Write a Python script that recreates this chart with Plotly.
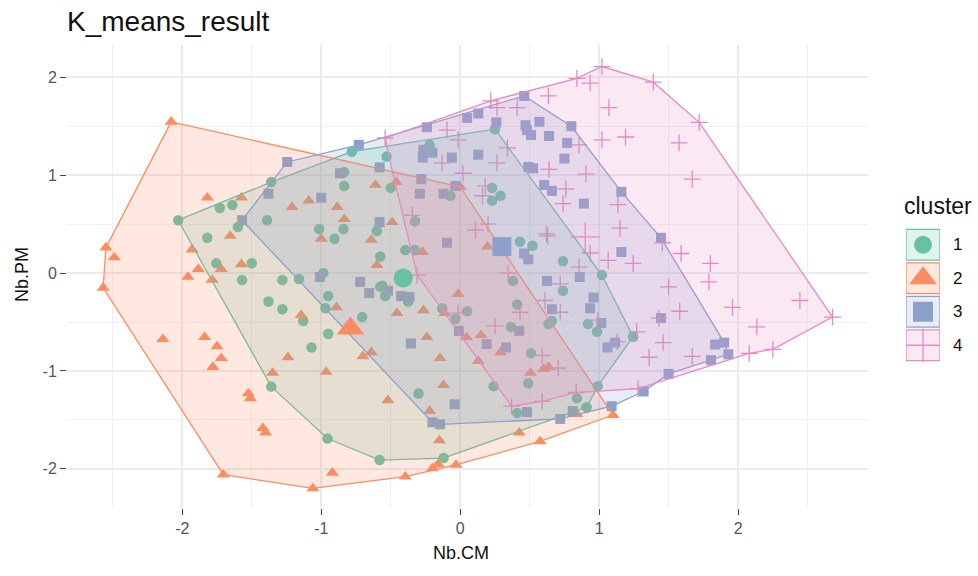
import plotly.graph_objects as go

TITLE = "K_means_result"
X_LABEL = "Nb.CM"
Y_LABEL = "Nb.PM"
LEGEND_TITLE = "cluster"
CLUSTERS = ["1", "2", "3", "4"]
TICKS = [-2, -1, 0, 1, 2]
TICK_TEXT = ["-2", "-1", "0", "1", "2"]
COLORS = ["#66C2A5", "#FC8D62", "#8DA0CB", "#E78AC3"]
FILLS = ["rgba(102,194,165,0.2)", "rgba(252,141,98,0.2)", "rgba(141,160,203,0.2)", "rgba(231,138,195,0.2)"]
SYMBOLS = ["circle", "triangle-up", "square", "cross-thin"]

c1_x = [-2.03,-1.73,-1.64,-1.60,-1.82,-1.36,-1.39,-1.755,-1.50,-1.57,-1.28,-1.16,-0.985,-0.95,-1.38,-0.78,-0.835,-0.835,-1.015,-0.84,-0.905,-0.60,-0.575,-0.575,-1.28,-1.13,-0.95,-1.07,-0.705,-0.97,-1.36,-0.955,-0.58,-0.53,-0.50,-0.22,0.25,0.23,0.29,0.23,-0.07,-0.325,-0.395,-0.325,0.43,0.52,0.74,1.02,0.38,0.74,-0.56,-0.54,-0.375,-0.13,0.05,-0.035,0.41,0.365,0.635,0.66,0.92,0.985,1.245,0.51,0.49,0.24,-0.30,0.99,0.84,0.91,0.41,-0.12]
c1_y = [0.54,0.665,0.695,0.47,0.36,0.93,0.54,0.10,0.10,-0.07,-0.07,-0.06,0,-0.235,-0.29,1.24,1.03,0.89,0.45,0.45,0.35,0.43,0.17,-0.14,-0.37,-0.49,-0.62,-0.76,-0.45,-0.36,-1.16,-1.69,-1.91,1.19,0.87,1.31,1.47,0.87,0.79,0.74,0.79,0.53,0.235,0.235,0.32,0.28,0.12,-0.02,-0.08,-0.18,-0.13,-0.235,-0.29,-0.36,-0.39,-0.47,-0.32,-0.55,-0.52,-0.49,-0.52,-0.60,-0.65,-0.82,-1.125,-1.155,-1.23,-1.155,-1.28,-1.37,-1.43,-1.89]

c2_x = [-2.08,-1.82,-1.575,-2.55,-2.49,-1.655,-1.93,-1.885,-1.96,-1.785,-1.72,-1.575,-2.57,-0.61,-1.09,-1.21,-0.885,-0.835,-1.0,-0.64,-0.60,-2.14,-1.84,-1.75,-1.72,-1.78,-1.525,-1.51,-1.42,-1.40,-1.705,-0.92,-1.06,-1.145,-0.89,-1.24,-1.35,-0.965,-0.70,-0.64,-0.46,-0.49,-0.27,0.195,0,-0.015,-0.455,-0.265,-0.11,-0.24,-0.145,0.045,0.15,0.29,0.13,0.505,0.60,0.635,-0.12,-0.52,-0.22,-0.15,0.425,0.575,0.84,1.10,-0.03,-0.16,-0.20,-0.395]
c2_y = [1.545,0.77,0.77,0.26,0.16,0.38,0.24,0.04,-0.04,-0.07,0.04,0.09,-0.15,0.90,0.74,0.675,0.675,0.55,0.35,0.34,0.08,-0.675,-0.655,-0.75,-0.87,-0.96,-1.23,-1.28,-1.585,-1.63,-2.06,-2.04,-2.20,-0.43,-0.35,-0.86,-1.02,-1.01,-0.85,-0.81,0.93,0.52,0.215,0.27,0.88,-0.215,-0.41,-0.38,-0.41,-0.655,-0.87,-0.655,-0.635,-0.81,-0.90,-1.02,-0.98,-0.96,-1.145,-1.30,-1.41,-1.71,-1.63,-1.72,-1.44,-1.45,-1.96,-1.955,-1.995,-2.08]

c3_x = [-1.245,-0.73,-0.865,-1.38,-1.0,-1.57,-1.01,-0.72,-0.655,-0.58,-0.58,-0.24,0.05,0.13,0.26,0.46,0.47,0.48,0.51,0.57,0.64,0.80,0.77,0.75,-0.265,-0.20,-0.27,-0.06,0.13,0.49,0.525,-0.28,-0.29,-0.12,-0.035,0.605,0.66,0.89,1.16,-0.095,1.445,1.16,0.46,0.49,0.625,0.86,0.96,0.935,0.66,1.015,1.115,1.06,1.445,1.50,1.32,1.09,0.81,0.72,0.48,0.425,0.33,0.19,-0.01,-0.355,-0.04,-0.20,-0.145,-0.52,-0.425,-0.365,1.90,1.835,1.93,1.805]
c3_y = [1.135,1.31,1.02,0.81,0.77,0.54,-0.04,-0.09,-0.205,0.52,1.08,1.49,1.585,1.63,1.54,1.81,1.51,1.46,1.41,1.545,1.40,1.50,1.33,1.17,1.26,1.23,1.18,1.18,1.21,1.085,1.07,0.96,0.81,0.81,0.89,0.90,0.84,0.71,0.83,0.31,0.36,0.215,0.20,0.14,-0.08,-0.04,-0.25,-0.36,-0.37,-0.51,-0.71,-0.76,-0.46,-1.03,-1.21,-1.36,-1.41,-1.49,-1.42,-0.59,-0.76,-0.725,-0.59,-0.72,-1.34,-1.525,-1.545,-0.18,-0.235,-0.245,-0.71,-0.73,-0.83,-0.89]

c4_x = [-0.54,0.22,0.265,0.41,0.635,0.84,0.935,1.02,1.39,1.07,1.02,1.19,-0.095,-0.015,0.34,0.855,-0.13,0.265,0.02,0.64,0.905,0.18,0.16,0.76,0.74,1.135,1.15,-0.345,0.20,0.11,0.62,0.63,0.935,1.065,1.245,0.855,1.455,-0.31,0.345,0.72,0.61,0.43,0.72,-0.015,0.25,0.99,1.13,1.27,1.43,1.46,1.50,1.36,0.59,0.705,0.835,0.59,0.37,1.28,1.72,1.575,1.67,1.59,1.80,1.79,1.96,2.445,1.58,2.135,2.68,1.67,2.08,2.25]
c4_y = [1.38,1.76,1.69,1.69,1.81,1.99,1.94,2.11,1.95,1.69,1.36,1.39,1.46,1.36,1.28,1.31,1.125,1.125,1.02,1.06,1.01,0.89,0.79,0.86,0.71,0.70,0.46,0.59,0.50,0.44,0.40,0.38,0.205,0.13,0.10,0.06,0.31,-0.02,0,-0.11,-0.28,-0.40,-0.40,-0.41,-0.54,-0.48,-0.70,-0.60,-0.46,-0.71,-0.14,-0.86,-0.84,-0.97,-1.22,-1.31,-1.36,-1.18,1.54,1.33,0.96,0.20,0.10,-0.09,-0.35,-0.28,-0.39,-0.55,-0.45,-0.85,-0.82,-0.78]

centre_x = [-0.41, -0.79, 0.30, 0.90]
centre_y = [-0.05, -0.565, 0.27, 0.37]

hull1_x = [-2.03,-1.36,-0.78,0.25,1.02,1.245,0.99,0.91,-0.12,-0.58,-0.955,-1.36,-2.03]
hull1_y = [0.54,0.93,1.24,1.47,-0.02,-0.65,-1.155,-1.37,-1.89,-1.91,-1.69,-1.16,0.54]
hull2_x = [-2.08,-2.55,-2.57,-1.705,-1.06,-0.395,-0.03,0.575,1.10,0,-2.08]
hull2_y = [1.545,0.26,-0.15,-2.06,-2.20,-2.08,-1.96,-1.72,-1.45,0.88,1.545]
hull3_x = [-1.57,-1.245,-0.73,0.46,0.80,1.16,1.445,1.90,1.93,1.805,1.50,1.32,1.09,0.72,-0.145,-0.20,-1.57]
hull3_y = [0.54,1.135,1.31,1.81,1.50,0.83,0.36,-0.71,-0.83,-0.89,-1.03,-1.21,-1.36,-1.49,-1.545,-1.525,0.54]
hull4_x = [-0.54,0.22,0.84,1.02,1.39,1.72,2.68,2.25,2.08,1.28,0.835,0.59,0.37,-0.31,-0.49,-0.54]
hull4_y = [1.38,1.76,1.99,2.11,1.95,1.54,-0.45,-0.78,-0.82,-1.18,-1.22,-1.31,-1.36,-0.02,1.05,1.38]

xs = [c1_x, c2_x, c3_x, c4_x]
ys = [c1_y, c2_y, c3_y, c4_y]
hx = [hull1_x, hull2_x, hull3_x, hull4_x]
hy = [hull1_y, hull2_y, hull3_y, hull4_y]

W, H = 978, 576
SMALL = [10.5, 11.5, 10, 12]
BIG = [19, 24, 19, 21]
KEY = [18, 24, 20, 24]

fig = go.Figure()


def mk(i, size):
    m = dict(symbol=SYMBOLS[i], size=size, color=COLORS[i])
    if SYMBOLS[i] == "cross-thin":
        m["line"] = dict(color=COLORS[i], width=1.3)
    else:
        m["line"] = dict(width=0)
    return m


# points first: the hulls are laid over them, which mutes the points inside
for i in range(4):
    fig.add_trace(go.Scatter(x=xs[i], y=ys[i], mode="markers", marker=mk(i, SMALL[i]),
                             showlegend=False, name=CLUSTERS[i]))
for i in range(4):
    fig.add_trace(go.Scatter(x=hx[i], y=hy[i], mode="lines", fill="toself", fillcolor=FILLS[i],
                             line=dict(color=COLORS[i], width=1.3), showlegend=False,
                             name=CLUSTERS[i], hoverinfo="skip"))
for i in range(4):
    fig.add_trace(go.Scatter(x=[centre_x[i]], y=[centre_y[i]], mode="markers", marker=mk(i, BIG[i]),
                             showlegend=False, name=CLUSTERS[i]))

# legend keys on their own small axes
shapes = []
annos = []
for i in range(4):
    yc = 3.5 - i
    shapes.append(dict(type="rect", xref="x2", yref="y2", x0=0, x1=1, y0=yc - 0.46, y1=yc + 0.46,
                       fillcolor=FILLS[i], line=dict(color=COLORS[i], width=1.3), layer="below"))
    fig.add_trace(go.Scatter(x=[0.5], y=[yc], xaxis="x2", yaxis="y2", mode="markers",
                             marker=mk(i, KEY[i]), showlegend=False, hoverinfo="skip"))
    annos.append(dict(text=CLUSTERS[i], xref="paper", yref="y2", x=951 / W, y=yc, showarrow=False,
                      xanchor="left", yanchor="middle",
                      font=dict(family="Liberation Sans", size=17, color="#111111")))
annos.append(dict(text=LEGEND_TITLE, xref="paper", yref="paper", x=902 / W, y=1 - 206 / H, showarrow=False,
                  xanchor="left", yanchor="middle", font=dict(family="Liberation Sans", size=23, color="#111111")))
annos.append(dict(text=Y_LABEL, xref="paper", yref="paper", x=22 / W, y=1 - 275 / H, showarrow=False,
                  textangle=-90, xanchor="center", yanchor="middle",
                  font=dict(family="Liberation Sans", size=18, color="#111111")))
annos.append(dict(text=X_LABEL, xref="paper", yref="paper", x=461 / W, y=1 - 553 / H, showarrow=False,
                  xanchor="center", yanchor="middle", font=dict(family="Liberation Sans", size=18, color="#111111")))
annos.append(dict(text=TITLE, xref="paper", yref="paper", x=65 / W, y=1 - 22 / H, showarrow=False,
                  xanchor="left", yanchor="middle", font=dict(family="Liberation Sans", size=28, color="#111111")))

grid = "#EBEBEB"
axis_common = dict(
    tickmode="array", ticks="outside", ticklen=6, tickwidth=1.2, tickcolor="#444444",
    tickfont=dict(family="Liberation Sans", size=16, color="#555555"),
    showgrid=True, gridcolor=grid, gridwidth=1.5, zeroline=False, showline=False,
    minor=dict(dtick=0.5, tick0=0.5, showgrid=True, gridcolor="#F0F0F0", gridwidth=1.2, ticks=""),
)

fig.update_layout(
    width=W, height=H, autosize=False,
    margin=dict(l=0, r=0, t=0, b=0),
    paper_bgcolor="white", plot_bgcolor="white",
    shapes=shapes, annotations=annos, showlegend=False,
    xaxis=dict(domain=[67 / W, 868 / W], range=[-2.83, 2.935], tickvals=TICKS, ticktext=TICK_TEXT, **axis_common),
    yaxis=dict(domain=[1 - 508 / H, 1 - 45 / H], range=[-2.40, 2.33], tickvals=TICKS, ticktext=TICK_TEXT, **axis_common),
    xaxis2=dict(domain=[906 / W, 940 / W], range=[0, 1], visible=False, anchor="y2", fixedrange=True),
    yaxis2=dict(domain=[1 - 362 / H, 1 - 228 / H], range=[0, 4], visible=False, anchor="x2", fixedrange=True),
)

fig.write_html("out.html", config={"displayModeBar": False},
               post_script="document.body.style.margin='0';document.documentElement.style.overflow='hidden';")
